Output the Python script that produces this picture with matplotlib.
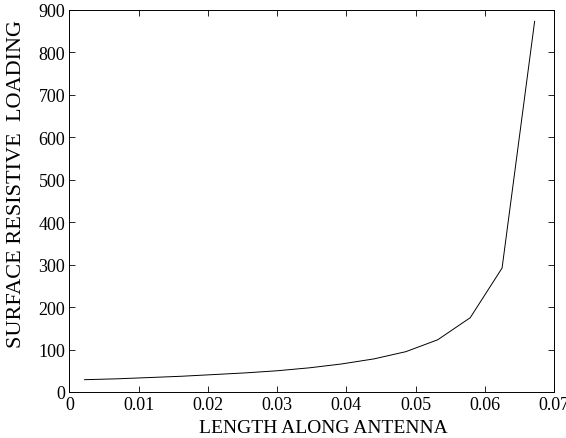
import matplotlib
matplotlib.use('Agg')
import matplotlib.pyplot as plt

plt.rcParams['font.family'] = 'Liberation Serif'
plt.rcParams['font.size'] = 13

# sample positions along the antenna and the loading there
length = [0.0022, 0.0068, 0.0115, 0.0161, 0.0208, 0.0254, 0.0300, 0.0347,
          0.0393, 0.0440, 0.0486, 0.0532, 0.0579, 0.0625, 0.0672]
loading = [29, 31, 34, 37, 41, 45, 50, 57, 66, 78, 95, 123, 175, 292, 873]

fig = plt.figure(figsize=(5.66, 4.39), dpi=100)
ax = fig.add_axes([0.1226, 0.1048, 0.8562, 0.8702])
ax.plot(length, loading, color='black', linewidth=0.7)

ax.set_xlim(0, 0.07)
ax.set_ylim(0, 900)
ax.set_xticks([0, 0.01, 0.02, 0.03, 0.04, 0.05, 0.06, 0.07])
ax.set_xticklabels(['0', '0.01', '0.02', '0.03', '0.04', '0.05', '0.06', '0.07'])
ax.set_yticks(range(0, 1000, 100))
ax.tick_params(direction='in', length=4, width=0.6, top=True, right=True, pad=3)
for s in ax.spines.values():
    s.set_linewidth(0.7)

fig.text(0.571, 0.024, 'LENGTH ALONG ANTENNA', fontsize=14,
         ha='center', va='center')
fig.text(0.030, 0.581, 'SURFACE RESISTIVE  LOADING', fontsize=16,
         rotation=90, ha='center', va='center')

fig.savefig('out.png', dpi=100)
